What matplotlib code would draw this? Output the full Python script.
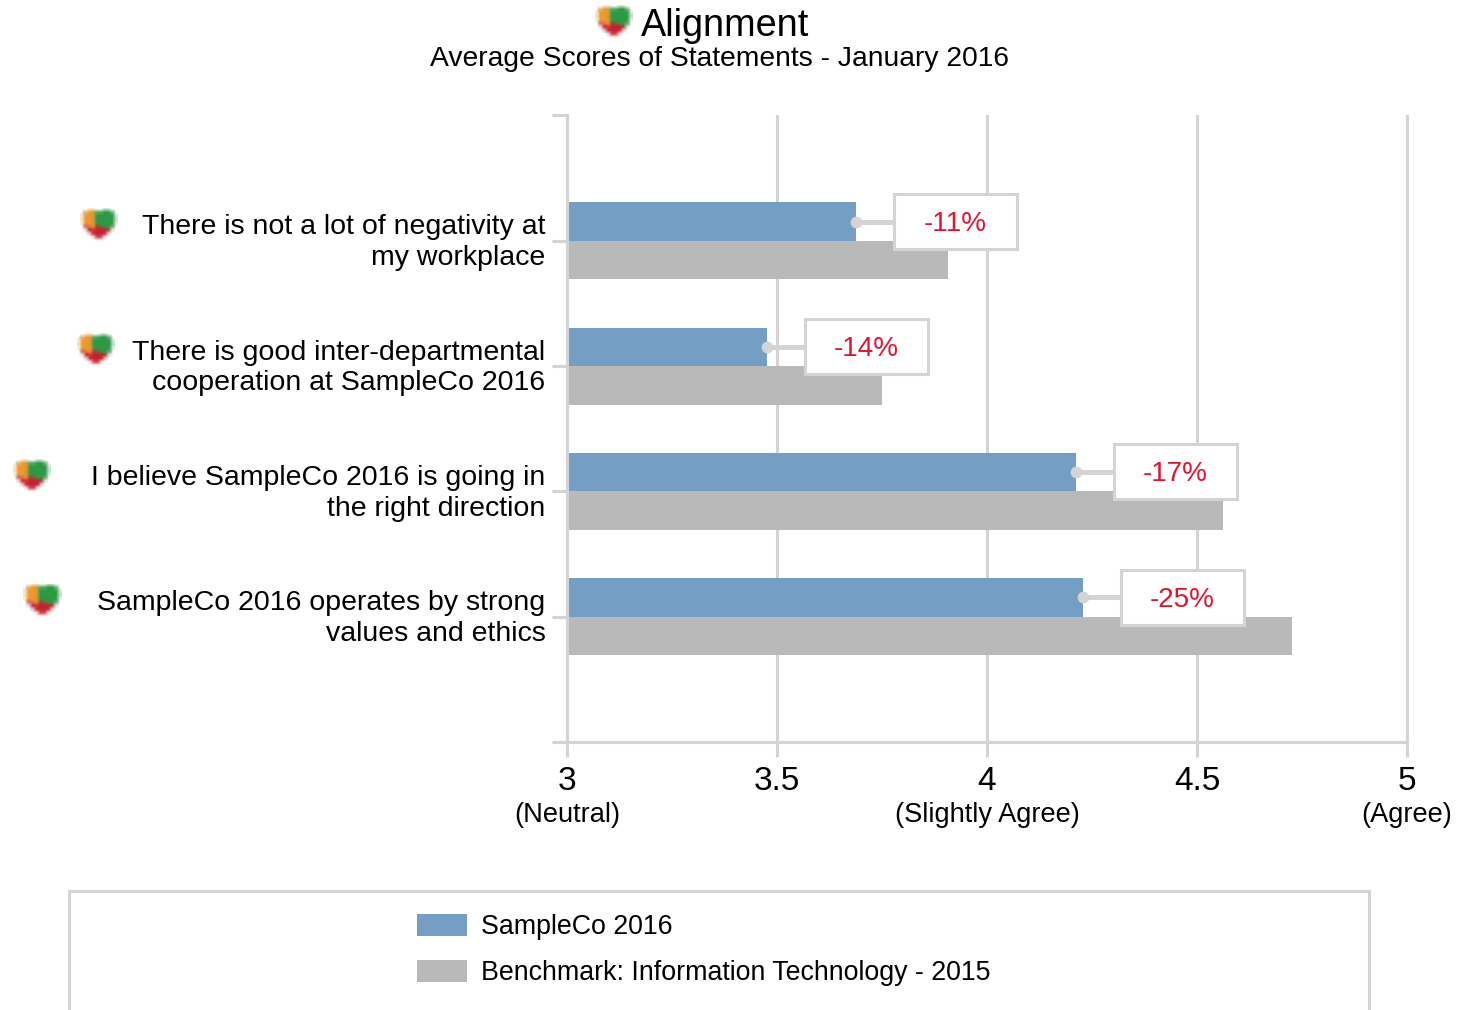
import numpy as np
import matplotlib
matplotlib.use('Agg')
import matplotlib.pyplot as plt
from matplotlib.patches import Rectangle
from matplotlib.transforms import ScaledTranslation

plt.rcParams['font.family'] = ['Liberation Sans', 'DejaVu Sans']

# Data
statements = ['There is not a lot of negativity at\nmy workplace',
              'There is good inter-departmental\ncooperation at SampleCo 2016',
              'I believe SampleCo 2016 is going in\nthe right direction',
              'SampleCo 2016 operates by strong\nvalues and ethics']
company_scores = [3.688, 3.476, 4.212, 4.229]
benchmark_scores = [3.907, 3.750, 4.562, 4.726]
gap_labels = ['-11%', '-14%', '-17%', '-25%']
tick_values = [3, 3.5, 4, 4.5, 5]
tick_labels = ['3', '3.5', '4', '4.5', '5']
tick_notes = ['(Neutral)', '', '(Slightly Agree)', '', '(Agree)']
series_names = ['SampleCo 2016', 'Benchmark: Information Technology - 2015']

W, H = 1469, 1010
GREY = '#D4D4D4'
BLUE = '#749EC3'
BAR_GREY = '#B9B9B9'
RED = '#E2142D'


def make_heart():
    # Draw the icon on a fine grid, then average it down so it looks blurry
    n, block = 10, 10
    u = np.linspace(-1.3, 1.3, n * block)
    v = np.linspace(1.4, -1.15, n * block)
    xx, yy = np.meshgrid(u, v)
    inside = (xx**2 + yy**2 - 1)**3 - xx**2 * yy**3 < 0
    fine = np.zeros((n * block, n * block, 4))
    fine[..., :3] = matplotlib.colors.to_rgb('#C8202F')
    fine[yy > 0.0 - 0.3 * xx] = matplotlib.colors.to_rgba('#2E9A45')
    fine[(xx < -0.3) & (yy > -0.4 - 0.5 * xx)] = matplotlib.colors.to_rgba('#EE9A30')
    fine[..., 3] = inside.astype(float)
    fine[..., :3] *= fine[..., 3:]
    small = fine.reshape(n, block, n, block, 4).mean(axis=(1, 3))
    alpha = small[..., 3:]
    small[..., :3] = small[..., :3] / np.maximum(alpha, 1e-6)
    return small


def add_heart(fig, cx, cy, w=38, h=35):
    hax = fig.add_axes([(cx - w / 2) / W, 1 - (cy + h / 2) / H, w / W, h / H])
    hax.imshow(make_heart(), interpolation='bilinear', aspect='auto')
    hax.axis('off')


fig = plt.figure(figsize=(W / 100, H / 100), dpi=100)
ax = fig.add_axes([567 / W, 1 - 742 / H, 840 / W, 626.5 / H])

y = np.arange(len(statements))
bar_h = 0.307
line_w = 2.2

ax.set_xlim(3, 5)
ax.set_ylim(4, -1)

bars_a = ax.barh(y - bar_h / 2, np.array(company_scores) - 3, bar_h, left=3, color=BLUE,
                 label=series_names[0], zorder=3)
bars_b = ax.barh(y + bar_h / 2, np.array(benchmark_scores) - 3, bar_h, left=3, color=BAR_GREY,
                 label=series_names[1], zorder=3)

# Vertical gridlines
ax.set_xticks(tick_values)
ax.set_xticklabels(tick_labels, fontsize=24)
ax.grid(axis='x', color=GREY, linewidth=line_w, zorder=1, clip_on=False)
ax.tick_params(axis='x', length=11, width=line_w, color=GREY, pad=6.5)

ax.set_yticks(np.arange(-1, 5))
ax.set_yticklabels([''] + statements + [''], fontsize=20.5, linespacing=1.24, ha='right')
ax.tick_params(axis='y', length=11, width=line_w, color=GREY, pad=4.5)
# Labels sit a little above the centre of their row
shift_up = ScaledTranslation(0, 3.5 / 100, fig.dpi_scale_trans)
for lab in ax.get_yticklabels():
    lab.set_transform(lab.get_transform() + shift_up)

for side in ['top', 'right']:
    ax.spines[side].set_visible(False)
for side in ['left', 'bottom']:
    ax.spines[side].set_color(GREY)
    ax.spines[side].set_linewidth(line_w)
    ax.spines[side].set_zorder(4)

# Sub labels under the x ticks
for val, note in zip(tick_values, tick_notes):
    if note:
        ax.annotate(note, (val, 0), xycoords=('data', 'axes fraction'), xytext=(0, -52.4),
                    textcoords='offset points', ha='center', va='center', fontsize=19.6)

# Callouts with the gap to the benchmark
box_w = 123 / 420
box_h = 55 / 125.4
for i, (val, gap) in enumerate(zip(company_scores, gap_labels)):
    box_x = val + 38 / 420
    box_y = i - 0.375
    mid_y = i - bar_h / 2
    ax.plot([val, box_x], [mid_y, mid_y], color=GREY, linewidth=3.6, zorder=5,
            solid_capstyle='butt')
    ax.plot([val], [mid_y], 'o', color=GREY, markersize=7.5, zorder=5)
    ax.add_patch(Rectangle((box_x, box_y), box_w, box_h, facecolor='white', edgecolor=GREY,
                           linewidth=line_w, zorder=6))
    ax.text(box_x + box_w / 2, box_y + box_h / 2 + 0.02, gap, color=RED, fontsize=20,
            ha='center', va='center', zorder=7)

# Title
fig.text(641 / W, 1 - 26 / H, 'Alignment', fontsize=27.3, ha='left', va='center')
fig.text(720 / W, 1 - 59 / H, 'Average Scores of Statements - January 2016', fontsize=20.3,
         ha='center', va='center')

# Legend box, open at the bottom because it runs off the figure
fig.add_artist(Rectangle((69 / W, -0.05), 1300 / W, 1 - 891 / H + 0.05, facecolor='none',
                         edgecolor=GREY, linewidth=line_w, transform=fig.transFigure))
fig.legend(handles=[bars_a, bars_b], loc='upper left', bbox_to_anchor=(406 / W, 1 - 903 / H),
           frameon=False, fontsize=19.3, handlelength=1.875, handleheight=0.92,
           labelspacing=0.72, handletextpad=0.52, borderpad=0.4, borderaxespad=0)

# Heart icons
for cx, cy in [(614, 22), (99, 225), (96, 350), (32, 476), (42, 601)]:
    add_heart(fig, cx, cy)

fig.savefig('out.png', dpi=100)
